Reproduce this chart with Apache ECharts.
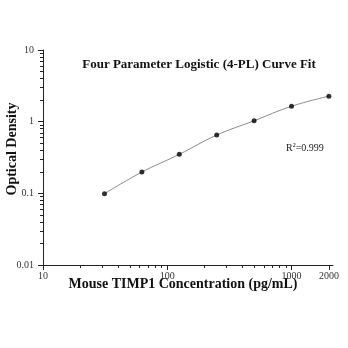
<!DOCTYPE html>
<html>
<head>
<meta charset="utf-8">
<script src="https://cdn.jsdelivr.net/npm/echarts@6/dist/echarts.min.js"></script>
<style>
html,body{margin:0;padding:0;background:#fff;}
#c{width:348px;height:348px;}
</style>
</head>
<body>
<div id="c"></div>
<script>
// Data
var concentrations = [31.25, 62.5, 125, 250, 500, 1000, 2000];
var opticalDensity = [0.099, 0.198, 0.35, 0.65, 1.03, 1.64, 2.27];
var xTickLabels = [10, 100, 1000, 2000];
var yTickLabels = [0.01, 0.1, 1, 10];
var xMinorTicks = [20,30,40,50,60,70,80,90,200,300,400,500,600,700,800,900];
var yMinorTicks = [0.02,0.03,0.04,0.05,0.06,0.07,0.08,0.09,0.2,0.3,0.4,0.5,0.6,0.7,0.8,0.9,2,3,4,5,6,7,8,9];
var titleText = 'Four Parameter Logistic (4-PL) Curve Fit';
var xName = 'Mouse TIMP1 Concentration (pg/mL)';
var yName = 'Optical Density';
var r2 = '0.999';

var L = Math.log10;
var pts = concentrations.map(function(c, i){ return [L(c), L(opticalDensity[i])]; });
var serif = '"Liberation Serif", "Times New Roman", serif';
var xMin = 1, xMax = 3.334, yMin = -2, yMax = 1;

function fmt(v){
  var n = Math.pow(10, v);
  var r = Number(n.toPrecision(3));
  return String(r);
}

var chart = echarts.init(document.getElementById('c'), null, {renderer:'canvas'});
chart.setOption({
  animation:false,
  backgroundColor:'#fff',
  grid:{left:43, right:15, top:50, bottom:83, containLabel:false},
  xAxis:[{
    type:'value', min:xMin, max:xMax, position:'bottom',
    axisLine:{show:true, onZero:false, lineStyle:{color:'#222', width:1}},
    axisTick:{show:true, inside:false, length:5, lineStyle:{color:'#222'}, customValues:xTickLabels.map(L)},
    axisLabel:{show:true, customValues:xTickLabels.map(L), formatter:fmt, fontFamily:serif, fontSize:10, color:'#333', margin:6},
    splitLine:{show:false}
  },{
    type:'value', min:xMin, max:xMax, position:'bottom',
    axisLine:{show:false, onZero:false},
    axisTick:{show:true, inside:false, length:3, lineStyle:{color:'#222'}, customValues:xMinorTicks.map(L)},
    axisLabel:{show:false},
    splitLine:{show:false}
  }],
  yAxis:[{
    type:'value', min:yMin, max:yMax, position:'left',
    axisLine:{show:true, onZero:false, lineStyle:{color:'#222', width:1}},
    axisTick:{show:true, inside:false, length:5, lineStyle:{color:'#222'}, customValues:yTickLabels.map(L)},
    axisLabel:{show:true, customValues:yTickLabels.map(L), formatter:fmt, fontFamily:serif, fontSize:10, color:'#333', margin:9},
    splitLine:{show:false}
  },{
    type:'value', min:yMin, max:yMax, position:'left',
    axisLine:{show:false, onZero:false},
    axisTick:{show:true, inside:false, length:3, lineStyle:{color:'#222'}, customValues:yMinorTicks.map(L)},
    axisLabel:{show:false},
    splitLine:{show:false}
  }],
  series:[{
    type:'line', data:pts, smooth:0.4, symbol:'none',
    lineStyle:{color:'#8a8a8a', width:1}, z:2
  },{
    type:'scatter', data:pts, symbol:'circle', symbolSize:5,
    itemStyle:{color:'#000'}, z:3
  }],
  graphic:[
    {type:'text', x:199, y:65, style:{text:titleText, font:'bold 13px '+serif, fill:'#111', textAlign:'center', textVerticalAlign:'middle'}},
    {type:'text', x:183, y:284, style:{text:xName, font:'bold 14px '+serif, fill:'#111', textAlign:'center', textVerticalAlign:'middle'}},
    {type:'text', x:12, y:149, rotation:Math.PI/2, style:{text:yName, font:'bold 14px '+serif, fill:'#111', textAlign:'center', textVerticalAlign:'middle'}},
    {type:'text', x:286, y:148, style:{
      text:'{r|R}{s|2}{r|=' + r2 + '}',
      textVerticalAlign:'middle',
      rich:{ r:{fontFamily:serif, fontSize:10, fill:'#222', color:'#222'}, s:{fontFamily:serif, fontSize:6, color:'#222', verticalAlign:'top', padding:[0,0,5,0]} }
    }}
  ]
});
</script>
</body>
</html>
